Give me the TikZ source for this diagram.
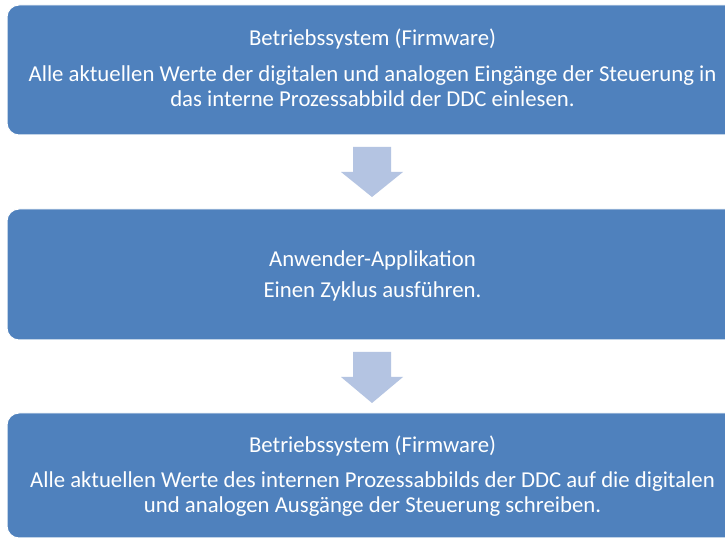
\documentclass[tikz,border=0pt]{standalone}
\usepackage{fontspec}
\setmainfont{Carlito}
\definecolor{boxblue}{HTML}{4F81BD}
\definecolor{arrowblue}{RGB}{180,196,226}
\begin{document}
\begin{tikzpicture}[x=1pt,y=1pt,
  box/.style={draw=white, line width=1pt, fill=boxblue, rounded corners=12pt, minimum width=731pt, inner sep=0pt},
  txt/.style={anchor=base, inner sep=0pt, text=white, font=\fontsize{22.75}{25}\selectfont},
  blockarrow/.style={fill=arrowblue, draw=none}]
\useasboundingbox (0,0) rectangle (725,540);
\fill[white] (0,0) rectangle (725,540);
\clip (0,0) rectangle (725,540);
% boxes
\node[box, minimum height=130pt] (b1) at (372.5,470) {};
\node[box, minimum height=131pt] (b2) at (372.5,265.5) {};
\node[box, minimum height=125pt] (b3) at (372.5,64.5) {};
% arrows
\fill[blockarrow] (353,393) -- (391,393) -- (391,368) -- (403,368) -- (372,343) -- (341,368) -- (353,368) -- cycle;
\fill[blockarrow] (353,188) -- (391,188) -- (391,163) -- (403,163) -- (372,137) -- (341,163) -- (353,163) -- cycle;
% texts
\node[txt] (t11) at (372.5,494) {Betriebssystem (Firmware)};
\node[txt] (t12) at (372.5,458) {Alle aktuellen Werte der digitalen und analogen Eingänge der Steuerung in};
\node[txt] (t13) at (372.5,433) {das interne Prozessabbild der DDC einlesen.};
\node[txt] (t21) at (372.5,273) {Anwender-Applikation};
\node[txt] (t22) at (372.5,242) {Einen Zyklus ausführen.};
\node[txt] (t31) at (372.5,87) {Betriebssystem (Firmware)};
\node[txt] (t32) at (372.5,52) {Alle aktuellen Werte des internen Prozessabbilds der DDC auf die digitalen};
\node[txt] (t33) at (372.5,27) {und analogen Ausgänge der Steuerung schreiben.};
\end{tikzpicture}
\end{document}
